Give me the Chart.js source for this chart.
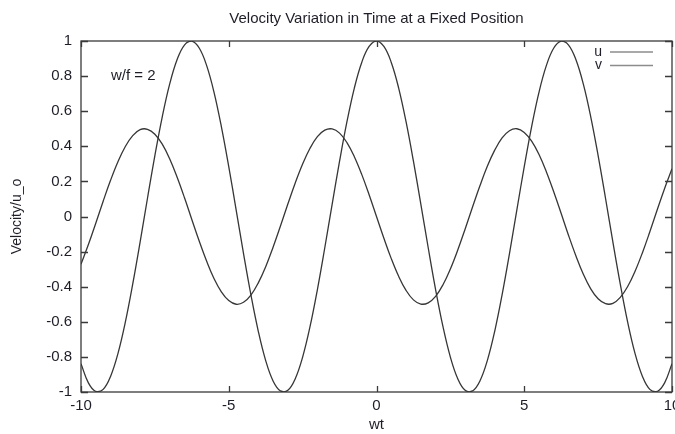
<!DOCTYPE html>
<html>
<head>
<meta charset="utf-8">
<script src="https://cdn.jsdelivr.net/npm/chart.js@4.4.1/dist/chart.umd.min.js"></script>
<style>
  html, body { margin: 0; padding: 0; background: #fff; }
  #wrap { width: 675px; height: 434px; }
</style>
</head>
<body>
<div id="wrap"><canvas id="velocityChart" width="675" height="434"></canvas></div>
<script>
// wt samples, every 0.25
const wt = [
    -10, -9.75, -9.5, -9.25, -9, -8.75, -8.5, -8.25, -8, -7.75,
    -7.5, -7.25, -7, -6.75, -6.5, -6.25, -6, -5.75, -5.5, -5.25,
    -5, -4.75, -4.5, -4.25, -4, -3.75, -3.5, -3.25, -3, -2.75,
    -2.5, -2.25, -2, -1.75, -1.5, -1.25, -1, -0.75, -0.5, -0.25,
    0, 0.25, 0.5, 0.75, 1, 1.25, 1.5, 1.75, 2, 2.25,
    2.5, 2.75, 3, 3.25, 3.5, 3.75, 4, 4.25, 4.5, 4.75,
    5, 5.25, 5.5, 5.75, 6, 6.25, 6.5, 6.75, 7, 7.25,
    7.5, 7.75, 8, 8.25, 8.5, 8.75, 9, 9.25, 9.5, 9.75, 10
];

const uValues = [
    -0.839, -0.948, -0.997, -0.985, -0.911, -0.781, -0.602, -0.385, -0.146, 0.104,
    0.347, 0.568, 0.754, 0.893, 0.977, 0.999, 0.960, 0.861, 0.709, 0.512,
    0.284, 0.038, -0.211, -0.446, -0.654, -0.821, -0.937, -0.994, -0.990, -0.924,
    -0.801, -0.628, -0.416, -0.178, 0.071, 0.315, 0.540, 0.732, 0.878, 0.969,
    1.000, 0.969, 0.878, 0.732, 0.540, 0.315, 0.071, -0.178, -0.416, -0.628,
    -0.801, -0.924, -0.990, -0.994, -0.937, -0.821, -0.654, -0.446, -0.211, 0.038,
    0.284, 0.512, 0.709, 0.861, 0.960, 0.999, 0.977, 0.893, 0.754, 0.568,
    0.347, 0.104, -0.146, -0.385, -0.602, -0.781, -0.911, -0.985, -0.997, -0.948, -0.839
];

const vValues = [
    -0.272, -0.160, -0.038, 0.087, 0.206, 0.312, 0.399, 0.461, 0.495, 0.497,
    0.469, 0.412, 0.329, 0.225, 0.108, -0.017, -0.140, -0.254, -0.353, -0.429,
    -0.479, -0.500, -0.489, -0.448, -0.378, -0.286, -0.175, -0.054, 0.071, 0.191,
    0.299, 0.389, 0.455, 0.492, 0.499, 0.475, 0.421, 0.341, 0.240, 0.124,
    0.000, -0.124, -0.240, -0.341, -0.421, -0.475, -0.499, -0.492, -0.455, -0.389,
    -0.299, -0.191, -0.071, 0.054, 0.175, 0.286, 0.378, 0.448, 0.489, 0.500,
    0.479, 0.429, 0.353, 0.254, 0.140, 0.017, -0.108, -0.225, -0.329, -0.412,
    -0.469, -0.497, -0.495, -0.461, -0.399, -0.312, -0.206, -0.087, 0.038, 0.160, 0.272
];

const seriesNames = ['u', 'v'];
const xTicks = [-10, -5, 0, 5, 10];
const yTicks = [-1, -0.8, -0.6, -0.4, -0.2, 0, 0.2, 0.4, 0.6, 0.8, 1];

const lineColor = '#363636';
const textColor = '#1e1e28';
const fontFamily = '"Liberation Sans", Arial, sans-serif';

function toPoints(values) {
    return wt.map((x, i) => ({ x: x, y: values[i] }));
}

// gnuplot style frame: border on all sides with inward ticks, plus key and label
const gnuplotFrame = {
    id: 'gnuplotFrame',
    afterDatasetsDraw(chart) {
        const { ctx, chartArea: a, scales } = chart;
        ctx.save();
        ctx.strokeStyle = '#3a3a3a';
        ctx.lineWidth = 1.3;
        ctx.strokeRect(a.left, a.top, a.right - a.left, a.bottom - a.top);

        ctx.beginPath();
        xTicks.forEach(v => {
            const px = Math.round(scales.x.getPixelForValue(v)) + 0.5;
            ctx.moveTo(px, a.bottom); ctx.lineTo(px, a.bottom - 6);
            ctx.moveTo(px, a.top); ctx.lineTo(px, a.top + 6);
        });
        yTicks.forEach(v => {
            const py = Math.round(scales.y.getPixelForValue(v)) + 0.5;
            ctx.moveTo(a.left, py); ctx.lineTo(a.left + 7, py);
            ctx.moveTo(a.right, py); ctx.lineTo(a.right - 7, py);
        });
        ctx.stroke();

        // annotation
        ctx.fillStyle = textColor;
        ctx.font = '15px ' + fontFamily;
        ctx.textBaseline = 'middle';
        ctx.textAlign = 'left';
        ctx.fillText('w/f = 2', 111, 76);

        // key
        ctx.font = '14px ' + fontFamily;
        ctx.textAlign = 'right';
        ctx.strokeStyle = '#8c8c8c';
        ctx.lineWidth = 1.5;
        seriesNames.forEach((name, i) => {
            const y = 52 + i * 13.5;
            ctx.fillText(name, 602, y);
            ctx.beginPath();
            ctx.moveTo(610, y);
            ctx.lineTo(653, y);
            ctx.stroke();
        });
        ctx.restore();
    }
};

const ctx = document.getElementById('velocityChart').getContext('2d');
const velocityChart = new Chart(ctx, {
    type: 'line',
    data: {
        datasets: [
            { label: seriesNames[0], data: toPoints(uValues), borderColor: lineColor, borderWidth: 1.3, pointRadius: 0, tension: 0.4, fill: false },
            { label: seriesNames[1], data: toPoints(vValues), borderColor: lineColor, borderWidth: 1.3, pointRadius: 0, tension: 0.4, fill: false }
        ]
    },
    options: {
        responsive: false,
        animation: false,
        layout: { padding: { right: 3, left: 0, top: 0, bottom: 0 } },
        scales: {
            x: {
                type: 'linear',
                min: -10,
                max: 10,
                grid: { display: false, drawTicks: false },
                border: { display: false },
                ticks: {
                    stepSize: 5,
                    padding: 5,
                    color: textColor,
                    font: { family: fontFamily, size: 15 }
                },
                title: {
                    display: true,
                    text: 'wt',
                    color: textColor,
                    font: { family: fontFamily, size: 15 },
                    padding: { top: 0, bottom: 0 }
                },
                afterFit(scale) {
                    scale.height = 42;
                    scale.paddingLeft = 0;
                    scale.paddingRight = 0;
                }
            },
            y: {
                min: -1,
                max: 1,
                grid: { display: false, drawTicks: false },
                border: { display: false },
                ticks: {
                    stepSize: 0.2,
                    padding: 9,
                    color: textColor,
                    font: { family: fontFamily, size: 15 },
                    callback: v => Math.round(v * 10) / 10
                },
                title: {
                    display: true,
                    text: 'Velocity/u_o',
                    color: textColor,
                    font: { family: fontFamily, size: 14 },
                    padding: { top: 9, bottom: 0 }
                },
                afterFit(scale) {
                    scale.width = 81;
                }
            }
        },
        plugins: {
            legend: { display: false },
            tooltip: { enabled: false },
            title: {
                display: true,
                fullSize: false,
                text: 'Velocity Variation in Time at a Fixed Position',
                color: textColor,
                font: { family: fontFamily, size: 15, weight: 'normal' },
                padding: { top: 10, bottom: 13 }
            }
        }
    },
    plugins: [gnuplotFrame]
});
</script>
</body>
</html>
